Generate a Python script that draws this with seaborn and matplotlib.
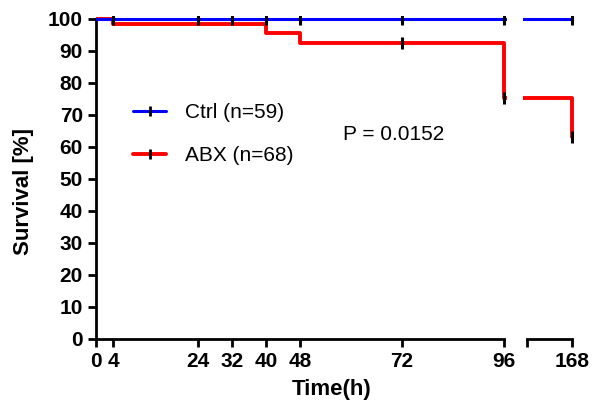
import numpy as np
import pandas as pd
import matplotlib
matplotlib.use('Agg')
import matplotlib.pyplot as plt
import seaborn as sns
from matplotlib.lines import Line2D

# dados
ctrl_t = [0, 168]
ctrl_s = [100, 100]
abx_t = [0, 4, 40, 48, 96, 168]
abx_s = [100, 98.5, 95.6, 92.6, 75.3, 63.1]
ctrl_cens_t = [4, 24, 32, 40, 48, 72, 96, 168]
ctrl_cens_s = [100, 100, 100, 100, 100, 100, 100, 100]
abx_cens_t = [72, 96, 168]
abx_cens_s = [92.6, 75.3, 63.1]
xticks_left = [0, 4, 24, 32, 40, 48, 72, 96]
yticks = [0, 10, 20, 30, 40, 50, 60, 70, 80, 90, 100]
labels = ['Ctrl (n=59)', 'ABX (n=68)']
p_text = 'P = 0.0152'

sns.set_style('ticks')
plt.rcParams['font.family'] = ['Liberation Sans', 'DejaVu Sans']
plt.rcParams['text.color'] = 'black'
plt.rcParams['axes.labelcolor'] = 'black'

W, H = 595, 417
fig = plt.figure(figsize=(W / 100, H / 100), dpi=100)

pxh = 408 / 96.0          # pixels per hour
y0, ytop = 339, 339 - 100.8 * 3.2
ax1 = fig.add_axes([96 / W, 1 - y0 / H, 96.7 * pxh / W, (y0 - ytop) / H])
x_r0 = 572 - 11.5 * pxh
ax2 = fig.add_axes([x_r0 / W, 1 - y0 / H, 12.2 * pxh / W, (y0 - ytop) / H])

for ax in (ax1, ax2):
    sns.lineplot(x=abx_t, y=abx_s, ax=ax, color='#FF0000', lw=2.8,
                 drawstyle='steps-post', estimator=None, zorder=2)
    sns.lineplot(x=ctrl_t, y=ctrl_s, ax=ax, color='#0000FF', lw=2.2,
                 drawstyle='steps-post', estimator=None, zorder=3)
    ax.plot(ctrl_cens_t, ctrl_cens_s, ls='none', marker='|', color='black',
            markersize=8, mew=2.2, zorder=5)
    ax.plot(abx_cens_t, abx_cens_s, ls='none', marker='|', color='black',
            markersize=8, mew=2.2, zorder=5)
    ax.set_ylim(0, 100.8)
    ax.spines['top'].set_visible(False)
    ax.spines['right'].set_visible(False)
    ax.spines['bottom'].set_linewidth(2)
    ax.spines['left'].set_linewidth(2)
    ax.spines['bottom'].set_color('black')
    ax.spines['left'].set_color('black')
    ax.tick_params(width=2, length=6, labelsize=15, colors='black')

ax1.set_xlim(0, 96.7)
ax1.spines['bottom'].set_bounds(0, 96)
ax1.spines['left'].set_bounds(0, 100)
ax1.set_xticks(xticks_left)
ax1.set_xticklabels([str(t) for t in xticks_left], fontweight='bold')
ax1.set_yticks(yticks)
ax1.set_yticklabels([str(t) for t in yticks], fontweight='bold')

ax2.set_xlim(156.5, 168.7)
ax2.spines['left'].set_visible(False)
ax2.spines['bottom'].set_bounds(157.5, 168)
ax2.set_xticks([157.5, 168])
ax2.set_xticklabels(['', '168'], fontweight='bold')
ax2.set_yticks([])

ax1.set_ylabel('Survival [%]', fontsize=16, fontweight='bold')
ax1.yaxis.set_label_coords(-0.15, 0.456)
ax1.set_xlabel('Time(h)', fontsize=16, fontweight='bold')
ax1.xaxis.set_label_coords(0.574, -0.125)

handles = [
    Line2D([0], [0], color='#0000FF', lw=2.2, marker='|', markeredgecolor='black', markersize=7, mew=2),
    Line2D([0], [0], color='#FF0000', lw=2.8, marker='|', markeredgecolor='black', markersize=7, mew=2),
]
fig.legend(handles, labels, loc='center left', bbox_to_anchor=(133 / W, 1 - 134 / H),
           frameon=False, fontsize=15, handlelength=1.6, handletextpad=0.9,
           labelspacing=1.15, borderpad=0, borderaxespad=0, labelcolor='black')

fig.text(343 / W, 1 - 135 / H, p_text, fontsize=15, va='center', ha='left', color='black')

fig.savefig('out.png', dpi=100)
